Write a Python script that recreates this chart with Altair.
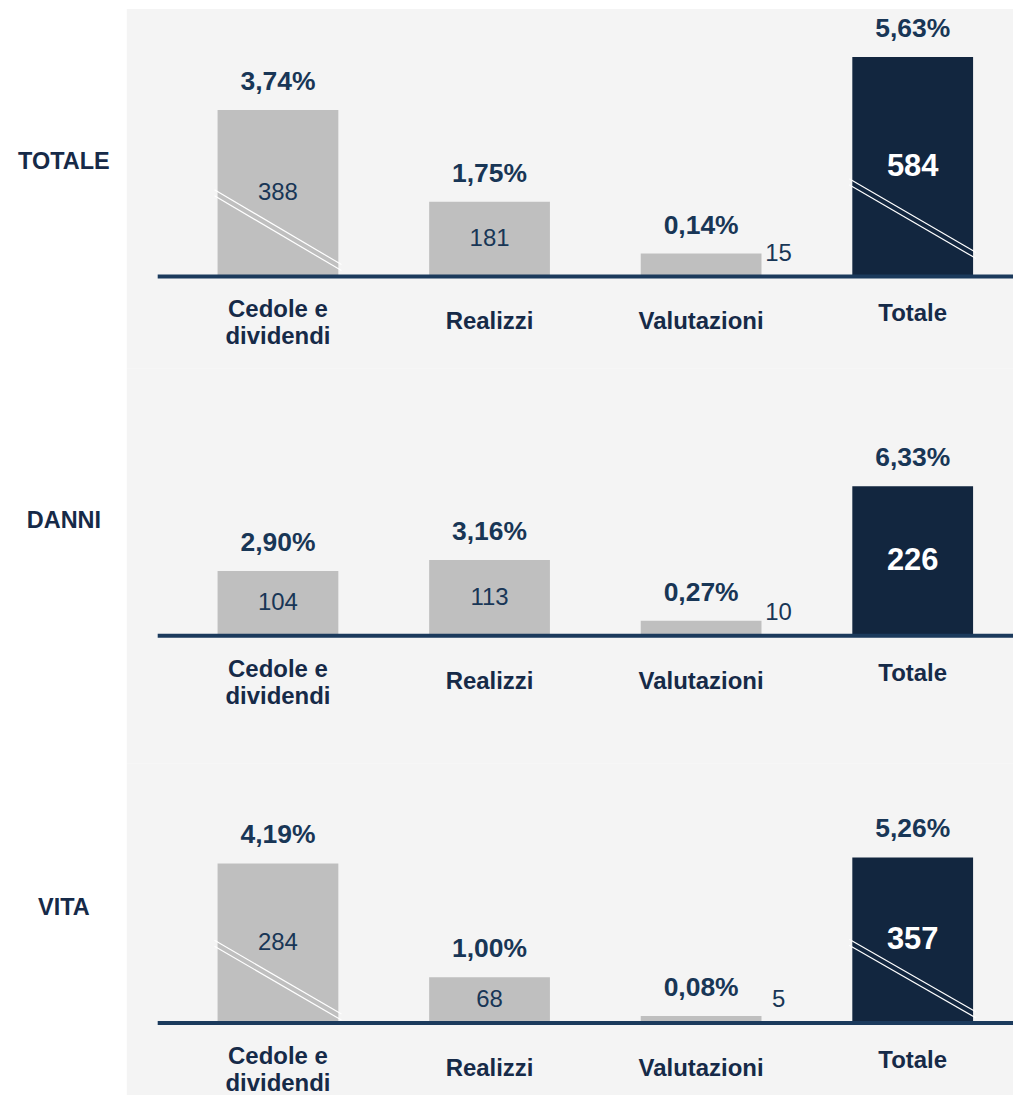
import altair as alt
import pandas as pd

# ---------------- data ----------------
categories = ["Cedole e dividendi", "Realizzi", "Valutazioni", "Totale"]
category_labels = ["Cedole e\ndividendi", "Realizzi", "Valutazioni", "Totale"]
panels = ["TOTALE", "DANNI", "VITA"]

totale_values = [388, 181, 15, 584]
danni_values = [104, 113, 10, 226]
vita_values = [284, 68, 5, 357]

totale_pcts = ["3,74%", "1,75%", "0,14%", "5,63%"]
danni_pcts = ["2,90%", "3,16%", "0,27%", "6,33%"]
vita_pcts = ["4,19%", "1,00%", "0,08%", "5,26%"]

# drawn bar lengths (the reference bars are stylised / broken, not to scale)
totale_drawn = [167, 75, 23, 220]
danni_drawn = [65, 76, 15, 150]
vita_drawn = [160, 46, 7, 166]

# axis-break marks: panel, category, height at left end, height at right end
break_panels = ["TOTALE", "TOTALE", "VITA", "VITA"]
break_categories = ["Cedole e dividendi", "Totale", "Cedole e dividendi", "Totale"]
break_left = [87, 98, 83, 84]
break_right = [12, 24, 9, 11]

# ---------------- styling ----------------
FONT = "Liberation Sans"
NAVY_BAR = "#12263F"
GREY_BAR = "#BFBFBF"
BG = "#F4F4F4"
TXT = "#183656"
CAT_TXT = "#162A48"
AXIS = "#1B3A5C"

PANEL_W = 888
LABEL_W = 119
top_space = {"TOTALE": 268, "DANNI": 268, "VITA": 260}
below = {"TOTALE": 92, "DANNI": 128, "VITA": 72}

values = {"TOTALE": totale_values, "DANNI": danni_values, "VITA": vita_values}
pcts = {"TOTALE": totale_pcts, "DANNI": danni_pcts, "VITA": vita_pcts}
drawn = {"TOTALE": totale_drawn, "DANNI": danni_drawn, "VITA": vita_drawn}

xscale = alt.Scale(domain=[-0.7146, 3.4741], nice=False, zero=False)
HALF = 0.2854


def panel_chart(p):
    yscale = alt.Scale(domain=[-below[p], top_space[p]], nice=False, zero=False)
    h = top_space[p] + below[p]
    df = pd.DataFrame({
        "idx": list(range(len(categories))),
        "cat": categories,
        "label": category_labels,
        "value": values[p],
        "pct": pcts[p],
        "h": drawn[p],
    })
    base = alt.Chart(df).transform_calculate(
        x0=f"datum.idx - {HALF}", x1=f"datum.idx + {HALF}", hm="datum.h / 2", zero="0"
    )
    X = lambda f: alt.X(f, type="quantitative", scale=xscale, axis=None)
    Y = lambda f: alt.Y(f, type="quantitative", scale=yscale, axis=None)

    bars = base.mark_rect().encode(
        x=X("x0"), x2="x1", y=Y("h"), y2="zero",
        color=alt.condition(alt.datum.cat == "Totale", alt.value(NAVY_BAR), alt.value(GREY_BAR)),
    )

    # break marks
    rows = []
    for bp, bc, bl, br in zip(break_panels, break_categories, break_left, break_right):
        if bp == p:
            i = categories.index(bc)
            rows.append({"idx": i, "yl": bl, "yr": br})
            rows.append({"idx": i, "yl": bl - 6, "yr": br - 6})
    layers = [bars]
    if rows:
        brk = alt.Chart(pd.DataFrame(rows)).transform_calculate(
            bx0="datum.idx - 0.30", bx1="datum.idx + 0.30"
        ).mark_rule(color="white", strokeWidth=1.2).encode(
            x=X("bx0"), x2="bx1", y=Y("yl"), y2="yr"
        )
        layers.append(brk)

    axis_line = alt.Chart(pd.DataFrame({"b": [0]})).mark_rule(
        color=AXIS, strokeWidth=4
    ).encode(x=alt.value(31), x2=alt.value(PANEL_W), y=Y("b"))
    layers.append(axis_line)

    pct_text = base.mark_text(
        font=FONT, fontSize=26.5, fontWeight="bold", color=TXT, baseline="alphabetic", dy=-20
    ).encode(x=X("idx"), y=Y("h"), text="pct:N")
    layers.append(pct_text)

    grey_vals = base.transform_filter(
        "datum.cat != 'Totale' && datum.cat != 'Valutazioni'"
    ).mark_text(font=FONT, fontSize=24, color=TXT, baseline="middle").encode(
        x=X("idx"), y=Y("hm"), text="value:N"
    )
    tot_vals = base.transform_filter("datum.cat == 'Totale'").mark_text(
        font=FONT, fontSize=31, fontWeight="bold", color="white", baseline="middle"
    ).encode(x=X("idx"), y=Y("hm"), text="value:N")
    val_vals = base.transform_filter("datum.cat == 'Valutazioni'").transform_calculate(
        vx="datum.idx + 0.366", vy="23"
    ).mark_text(font=FONT, fontSize=24, color=TXT, baseline="middle").encode(
        x=X("vx"), y=Y("vy"), text="value:N"
    )
    layers += [grey_vals, tot_vals, val_vals]

    cat_style = dict(font=FONT, fontSize=24, fontWeight="bold", color=CAT_TXT,
                     baseline="middle", clip=True)
    cat_two = base.transform_filter("datum.cat == 'Cedole e dividendi'").mark_text(
        lineBreak="\n", lineHeight=27, dy=34, **cat_style
    ).encode(x=X("idx"), y=Y("zero"), text="label:N")
    cat_mid = base.transform_filter(
        "datum.cat == 'Realizzi' || datum.cat == 'Valutazioni'"
    ).mark_text(dy=46, **cat_style).encode(x=X("idx"), y=Y("zero"), text="label:N")
    cat_tot = base.transform_filter("datum.cat == 'Totale'").mark_text(
        dy=38, **cat_style
    ).encode(x=X("idx"), y=Y("zero"), text="label:N")
    layers += [cat_two, cat_mid, cat_tot]

    panel = alt.layer(*layers).properties(
        width=PANEL_W, height=h, view=alt.ViewBackground(fill=BG, stroke=None)
    )

    lab = alt.Chart(pd.DataFrame({"name": [p], "y": [115]})).mark_text(
        font=FONT, fontSize=23.5, fontWeight="bold", color=CAT_TXT, baseline="middle"
    ).encode(x=alt.value(56), y=Y("y"), text="name:N").properties(
        width=LABEL_W, height=h, view=alt.ViewBackground(fill="white", stroke=None)
    )
    return alt.hconcat(lab, panel, spacing=0)


chart = alt.vconcat(*[panel_chart(p) for p in panels], spacing=0).properties(
    padding=0, background="white"
).configure_view(stroke=None)

chart.save("out.html", embed_options={"renderer": "svg", "actions": False})
